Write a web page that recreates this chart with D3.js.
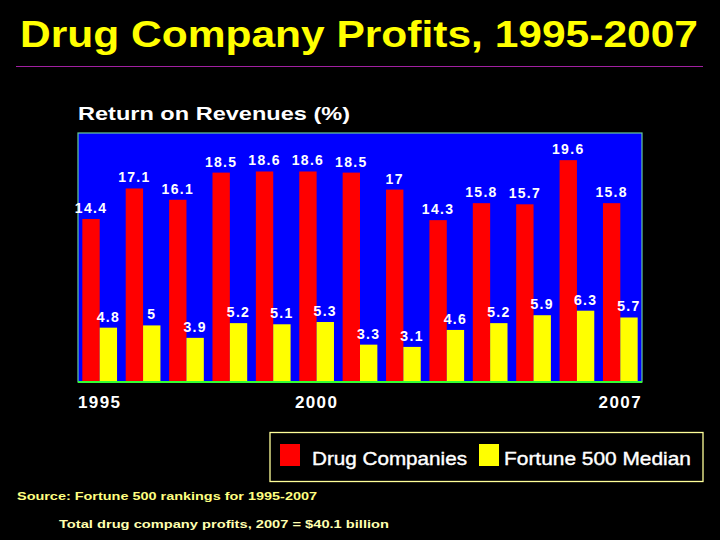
<!DOCTYPE html>
<html>
<head>
<meta charset="utf-8">
<script src="https://cdn.jsdelivr.net/npm/d3@7"></script>
<style>
  html, body { margin: 0; padding: 0; background: #000; }
  svg { display: block; }
  text { font-family: "Liberation Sans", Arial, sans-serif; font-weight: bold; }
</style>
</head>
<body>
<div id="chart"></div>
<script>
// data
const years = [1995, 1996, 1997, 1998, 1999, 2000, 2001, 2002, 2003, 2004, 2005, 2006, 2007];
const drugCompanies = [14.4, 17.1, 16.1, 18.5, 18.6, 18.6, 18.5, 17, 14.3, 15.8, 15.7, 19.6, 15.8];
const fortune500Median = [4.8, 5, 3.9, 5.2, 5.1, 5.3, 3.3, 3.1, 4.6, 5.2, 5.9, 6.3, 5.7];
const tickYears = [1995, 2000, 2007];
const seriesNames = ['Drug Companies', 'Fortune 500 Median'];

const width = 720;
const height = 540;
const plot = { left: 78, top: 133, right: 642, bottom: 382 };

const svg = d3.select('#chart')
    .append('svg')
    .attr('width', width)
    .attr('height', height)
    .attr('viewBox', `0 0 ${width} ${height}`);

svg.append('rect')
    .attr('width', width)
    .attr('height', height)
    .attr('fill', '#000');

// Title
svg.append('text')
    .attr('x', 20)
    .attr('y', 47)
    .attr('fill', '#ffff00')
    .attr('font-size', 36)
    .attr('textLength', 678)
    .attr('lengthAdjust', 'spacingAndGlyphs')
    .text('Drug Company Profits, 1995-2007');

svg.append('line')
    .attr('x1', 16).attr('x2', 703)
    .attr('y1', 66.5).attr('y2', 66.5)
    .attr('stroke', '#a020a0')
    .attr('stroke-width', 1);

svg.append('text')
    .attr('x', 78)
    .attr('y', 120)
    .attr('fill', '#fff')
    .attr('font-size', 19)
    .attr('textLength', 272)
    .attr('lengthAdjust', 'spacingAndGlyphs')
    .text('Return on Revenues (%)');

// Scales
const x0 = d3.scaleBand()
    .domain(years)
    .range([plot.left, plot.right])
    .paddingInner(0.2)
    .paddingOuter(0.1);

const x1 = d3.scaleBand()
    .domain(seriesNames)
    .range([0, x0.bandwidth()]);

const y = d3.scaleLinear()
    .domain([0, 22])
    .range([plot.bottom, plot.top]);

const colors = d3.scaleOrdinal()
    .domain(seriesNames)
    .range(['#ff0000', '#ffff00']);

// Plot background
svg.append('rect')
    .attr('x', plot.left)
    .attr('y', plot.top)
    .attr('width', plot.right - plot.left)
    .attr('height', plot.bottom - plot.top)
    .attr('fill', '#0000ff')
    .attr('stroke', '#66cc99')
    .attr('stroke-width', 1.2);

const rows = years.map((yr, i) => ({
    year: yr,
    values: [
        { key: seriesNames[0], val: drugCompanies[i] },
        { key: seriesNames[1], val: fortune500Median[i] }
    ]
}));

const groups = svg.append('g')
    .selectAll('g.year')
    .data(rows)
    .enter()
    .append('g')
    .attr('class', 'year')
    .attr('transform', d => `translate(${x0(d.year)},0)`);

groups.selectAll('rect')
    .data(d => d.values)
    .enter()
    .append('rect')
    .attr('x', d => x1(d.key))
    .attr('y', d => y(d.val))
    .attr('width', x1.bandwidth())
    .attr('height', d => y(0) - y(d.val))
    .attr('fill', d => colors(d.key));

groups.selectAll('text')
    .data(d => d.values)
    .enter()
    .append('text')
    .attr('x', d => x1(d.key) + x1.bandwidth() / 2)
    .attr('y', d => y(d.val) - 6)
    .attr('text-anchor', 'middle')
    .attr('fill', '#fff')
    .attr('font-size', 14)
    .attr('letter-spacing', 1.3)
    .text(d => d.val);

// Baseline
svg.append('line')
    .attr('x1', plot.left).attr('x2', plot.right)
    .attr('y1', plot.bottom).attr('y2', plot.bottom)
    .attr('stroke', '#33ff33')
    .attr('stroke-width', 2.2);

// X axis with only three year labels
const xAxis = d3.axisBottom(x0)
    .tickValues(tickYears)
    .tickSize(0)
    .tickPadding(0);

const axisG = svg.append('g')
    .attr('transform', `translate(0,${plot.bottom})`)
    .call(xAxis);

axisG.select('.domain').remove();
axisG.selectAll('text')
    .attr('dy', null)
    .attr('y', 25.5)
    .attr('fill', '#fff')
    .attr('font-size', 17)
    .attr('font-family', '"Liberation Sans", Arial, sans-serif')
    .attr('letter-spacing', 1.4);

// Legend
const legend = svg.append('g');

legend.append('rect')
    .attr('x', 270)
    .attr('y', 432.5)
    .attr('width', 433)
    .attr('height', 49)
    .attr('fill', '#000')
    .attr('stroke', '#ffff99')
    .attr('stroke-width', 1.3);

const legendItems = [
    { key: seriesNames[0], sx: 280, tx: 312, tw: 155 },
    { key: seriesNames[1], sx: 479, tx: 504, tw: 187 }
];

legendItems.forEach(item => {
    legend.append('rect')
        .attr('x', item.sx)
        .attr('y', 444)
        .attr('width', 20)
        .attr('height', 22)
        .attr('fill', colors(item.key));
    legend.append('text')
        .attr('x', item.tx)
        .attr('y', 464.5)
        .attr('fill', '#fff')
        .attr('font-size', 19)
        .style('font-weight', 'normal')
        .attr('stroke', '#fff')
        .attr('stroke-width', 0.4)
        .attr('textLength', item.tw)
        .attr('lengthAdjust', 'spacingAndGlyphs')
        .text(item.key);
});

// Footnotes
svg.append('text')
    .attr('x', 17)
    .attr('y', 500)
    .attr('fill', '#ffff80')
    .attr('font-size', 11)
    .attr('textLength', 300)
    .attr('lengthAdjust', 'spacingAndGlyphs')
    .text('Source: Fortune 500 rankings for 1995-2007');

svg.append('text')
    .attr('x', 59)
    .attr('y', 528)
    .attr('fill', '#ffffb0')
    .attr('font-size', 11)
    .attr('textLength', 330)
    .attr('lengthAdjust', 'spacingAndGlyphs')
    .text('Total drug company profits, 2007 = $40.1 billion');
</script>
</body>
</html>
